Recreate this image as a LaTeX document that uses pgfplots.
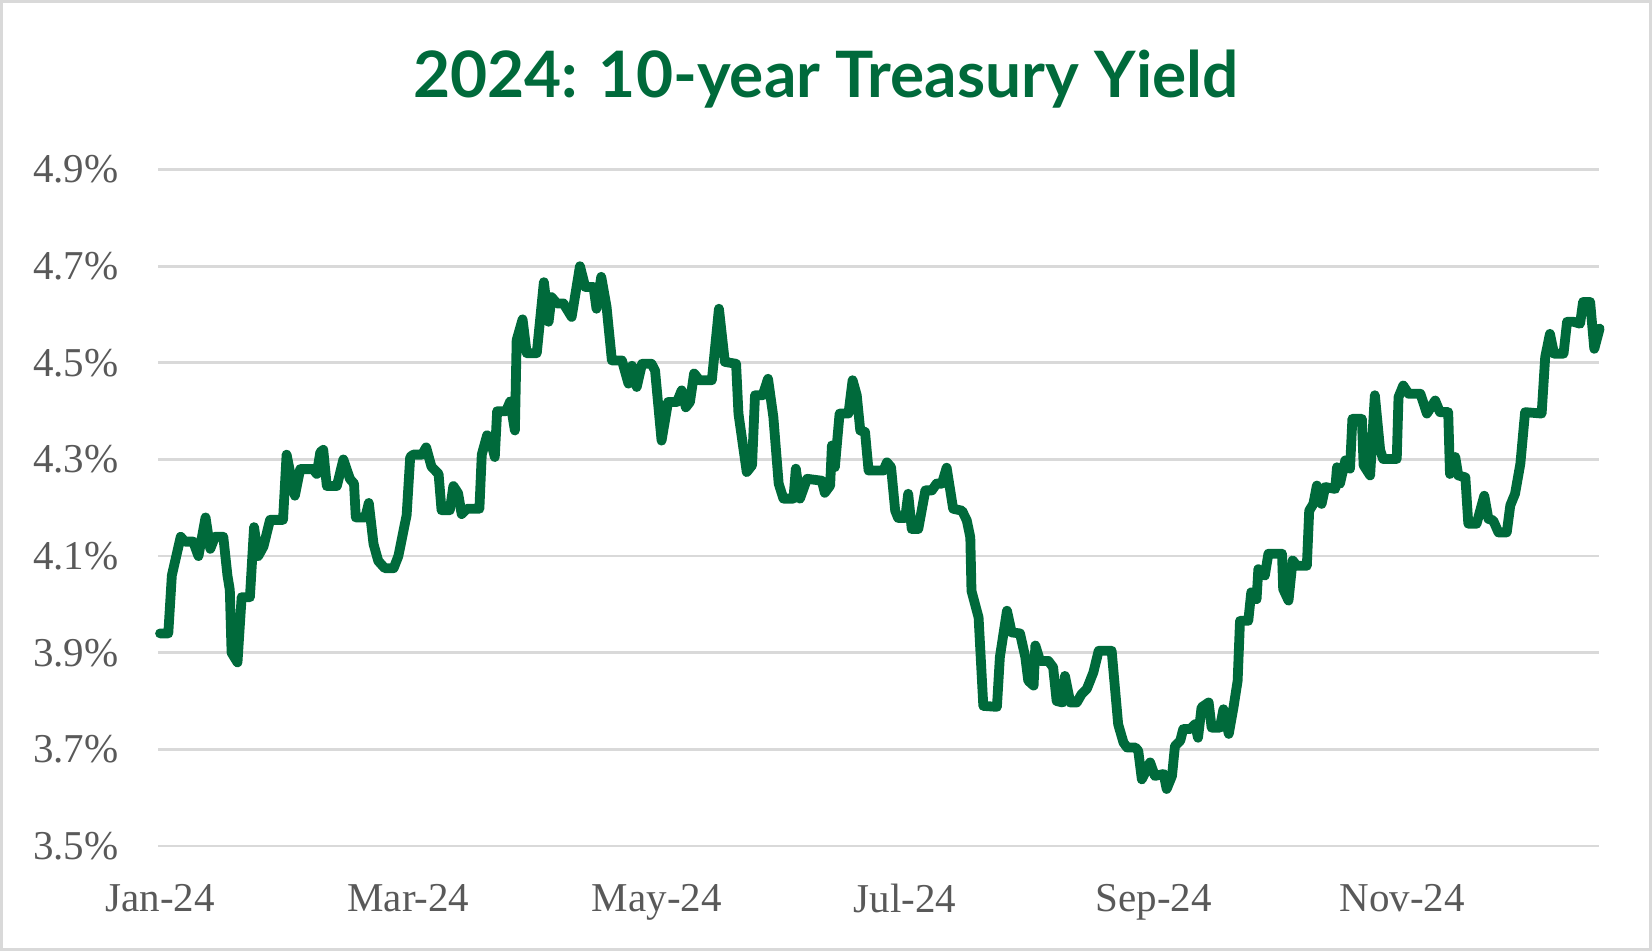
\documentclass[border=0pt]{standalone}
\usepackage{pgfplots}
\pgfplotsset{compat=1.18}
\usepackage{fontspec}
\setmainfont{Liberation Serif}
\newfontfamily\titlefont{Lato}
\definecolor{tgreen}{HTML}{006A3B}
\definecolor{gridgray}{HTML}{D9D9D9}
\definecolor{labgray}{HTML}{595959}
\begin{document}
\begin{tikzpicture}[x=1pt,y=1pt]
\draw[gridgray,line width=1.5pt] (0.75,0.75) rectangle (825.25,474.75);
\node[font=\titlefont\bfseries\fontsize{32}{37}\selectfont, text=tgreen] at (413,436) {2024: 10-year Treasury Yield};
\begin{axis}[
  at={(79pt,52.5pt)}, anchor=south west,
  scale only axis, width=720.5pt, height=338.2pt,
  xmin=-0.34, xmax=243.3, ymin=3.5, ymax=4.9,
  axis line style={draw=none},
  major tick length=0pt,
  ymajorgrids, grid style={gridgray, line width=1.35pt},
  ytick={3.5,3.7,3.9,4.1,4.3,4.5,4.7,4.9},
  yticklabels={3.5\%,3.7\%,3.9\%,4.1\%,4.3\%,4.5\%,4.7\%,4.9\%},
  xtick={0,42,84,126,168,210},
  xticklabels={Jan-24,Mar-24,May-24,Jul-24,Sep-24,Nov-24},
  tick label style={font=\fontsize{20.5}{24}\selectfont, text=labgray},
  yticklabel style={anchor=east, inner sep=0pt, xshift=-19.5pt},
  xticklabel style={anchor=north, inner sep=0pt, yshift=-19pt},
  clip=false,
]
\addplot[tgreen, line width=4.9pt, line join=round, line cap=round] coordinates {
(0,3.94)(1.4,3.94)(2.0,4.06)(3.5,4.14)(4.2,4.13)(5.6,4.13)(6.5,4.10)(7.7,4.18)(8.5,4.115)(9.3,4.14)(10.7,4.14)
(11.4,4.06)(11.8,4.03)(12.1,3.90)(13.1,3.88)(13.8,4.015)(15.2,4.015)(15.9,4.16)(16.6,4.10)(17.5,4.12)(18.6,4.175)
(20.8,4.175)(21.4,4.31)(22.8,4.225)(23.7,4.28)(25.9,4.28)(26.5,4.27)(27.1,4.315)(27.6,4.32)(28.2,4.245)(29.9,4.245)
(31.0,4.30)(32.1,4.26)(32.8,4.25)(33.1,4.18)(34.7,4.18)(35.3,4.21)(36.1,4.125)(36.9,4.09)(38.0,4.075)(39.5,4.075)
(40.3,4.10)(41.7,4.185)(42.3,4.305)(42.8,4.31)(44.3,4.31)(45.0,4.325)(45.9,4.285)(47.1,4.27)(47.6,4.195)(49.0,4.195)
(49.6,4.245)(50.4,4.23)(51.0,4.187)(51.9,4.198)(54.0,4.198)(54.4,4.31)(55.3,4.35)(55.8,4.345)(56.6,4.305)(57.0,4.40)
(58.5,4.40)(59.2,4.42)(60.0,4.36)(60.3,4.547)(61.3,4.59)(62.0,4.52)(63.7,4.52)(64.9,4.667)(65.7,4.585)(66.2,4.636)
(67.1,4.623)(68.2,4.623)(69.6,4.595)(71.0,4.70)(71.9,4.657)(73.3,4.657)(73.8,4.612)(74.6,4.678)(75.5,4.616)(76.4,4.505)
(78.1,4.505)(79.2,4.457)(79.8,4.494)(80.6,4.45)(81.5,4.498)(83.1,4.498)(83.7,4.484)(84.8,4.339)(85.9,4.419)(87.4,4.419)
(88.2,4.443)(88.9,4.408)(89.6,4.419)(90.3,4.478)(91.2,4.464)(93.3,4.464)(94.5,4.612)(95.5,4.502)(97.4,4.498)(97.8,4.395)
(99.2,4.274)(100.1,4.288)(100.6,4.433)(101.9,4.433)(102.8,4.467)(103.7,4.388)(104.6,4.25)(105.4,4.219)(107.1,4.219)(107.5,4.281)
(108.2,4.219)(109.4,4.26)(111.9,4.256)(112.4,4.231)(113.3,4.246)(113.6,4.329)(114.1,4.284)(114.9,4.395)(116.4,4.395)(117.1,4.464)
(117.8,4.433)(118.4,4.36)(119.2,4.357)(119.8,4.277)(122.3,4.277)(122.9,4.294)(123.6,4.284)(124.3,4.194)(124.8,4.179)(126.0,4.179)
(126.5,4.229)(127.1,4.156)(128.2,4.156)(129.4,4.236)(130.5,4.236)(131.3,4.25)(132.2,4.25)(133.0,4.283)(134.1,4.198)(135.6,4.194)
(136.4,4.174)(137.0,4.139)(137.2,4.028)(138.4,3.973)(139.2,3.79)(141.5,3.788)(142.0,3.891)(143.2,3.987)(144.0,3.942)(145.4,3.94)
(146.3,3.891)(146.8,3.842)(147.7,3.832)(148.0,3.915)(148.8,3.883)(150.2,3.883)(151.0,3.87)(151.6,3.80)(152.6,3.797)(153.0,3.852)
(153.9,3.797)(155.0,3.797)(155.8,3.814)(156.7,3.825)(157.8,3.859)(158.7,3.904)(160.9,3.904)(161.5,3.821)(162.0,3.752)(162.9,3.714)
(163.5,3.704)(164.9,3.704)(165.4,3.697)(166.0,3.638)(167.4,3.673)(168.2,3.645)(169.7,3.649)(170.2,3.618)(171.1,3.645)(171.6,3.707)
(172.5,3.718)(173.0,3.742)(174.2,3.742)(175.0,3.752)(175.5,3.724)(176.1,3.787)(177.3,3.797)(177.8,3.745)(179.2,3.745)(179.8,3.783)
(180.7,3.732)(181.5,3.787)(182.2,3.842)(182.6,3.966)(184.0,3.966)(184.5,4.025)(185.4,4.011)(185.7,4.073)(186.8,4.06)(187.4,4.105)
(189.7,4.105)(189.9,4.032)(190.8,4.008)(191.5,4.091)(192.2,4.08)(193.9,4.08)(194.3,4.194)(195.0,4.208)(195.6,4.246)(196.4,4.208)
(197.0,4.243)(198.7,4.239)(199.0,4.284)(199.5,4.25)(200.4,4.298)(201.2,4.281)(201.6,4.384)(203.2,4.384)(203.5,4.288)(204.6,4.267)
(205.4,4.433)(206.3,4.319)(206.8,4.301)(209.1,4.301)(209.4,4.429)(210.2,4.453)(211.1,4.436)(213.1,4.436)(214.2,4.395)(215.6,4.422)
(216.4,4.398)(217.8,4.398)(218.1,4.27)(219.0,4.305)(219.5,4.267)(220.7,4.263)(221.2,4.167)(222.6,4.167)(223.9,4.225)(224.6,4.177)
(225.4,4.174)(226.3,4.149)(227.7,4.149)(228.3,4.205)(229.1,4.229)(230.0,4.291)(230.8,4.398)(233.6,4.395)(234.2,4.512)(235.0,4.56)
(235.7,4.519)(237.3,4.519)(237.9,4.585)(239.0,4.585)(240.1,4.581)(240.6,4.626)(241.8,4.626)(242.5,4.529)(243.4,4.571)
};
\end{axis}
\end{tikzpicture}
\end{document}
